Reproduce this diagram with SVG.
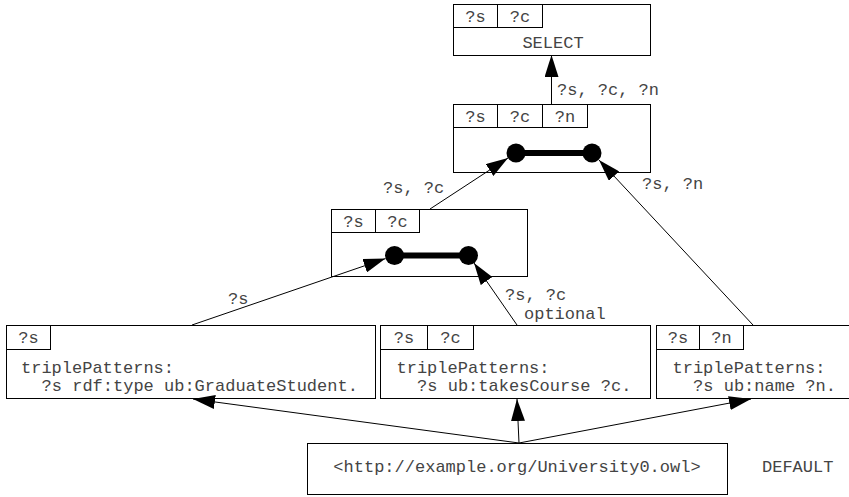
<svg xmlns="http://www.w3.org/2000/svg" width="849" height="497" viewBox="0 0 849 497">
<style>
  .box{fill:#fff;stroke:#000;stroke-width:1}
  .cell{fill:none;stroke:#000;stroke-width:1}
  text{font-family:"Liberation Mono","Courier New",monospace;font-size:17px;fill:#444}
  .c{text-anchor:middle}
  .edge{stroke:#000;stroke-width:1;fill:none;marker-end:url(#arr)}
  .bar{stroke:#000;stroke-width:6}
</style>
<defs>
  <marker id="arr" viewBox="0 0 22 14" refX="22" refY="7" markerWidth="22" markerHeight="14" orient="auto" markerUnits="userSpaceOnUse">
    <path d="M0,0 L22,7 L0,14 z" fill="#000"/>
  </marker>
</defs>
<rect width="849" height="497" fill="#fff"/>

<g id="select">
  <rect class="box" x="453.5" y="4.5" width="197" height="51"/>
  <rect class="cell" x="453.5" y="4.5" width="44" height="23"/>
  <rect class="cell" x="497.5" y="4.5" width="45" height="23"/>
  <text class="c" x="475.5" y="22">?s</text>
  <text class="c" x="520" y="22">?c</text>
  <text class="c" x="553" y="48">SELECT</text>
</g>

<g id="join1">
  <rect class="box" x="453.5" y="104.5" width="197" height="68"/>
  <rect class="cell" x="453.5" y="104.5" width="44" height="23"/>
  <rect class="cell" x="497.5" y="104.5" width="45" height="23"/>
  <rect class="cell" x="542.5" y="104.5" width="45" height="23"/>
  <text class="c" x="475.5" y="122">?s</text>
  <text class="c" x="520" y="122">?c</text>
  <text class="c" x="565" y="122">?n</text>
  <line class="bar" x1="516" y1="153" x2="592" y2="153"/>
  <circle cx="516" cy="153" r="9.5" fill="#000"/>
  <circle cx="592" cy="153" r="9.5" fill="#000"/>
</g>

<g id="join2">
  <rect class="box" x="331.5" y="209.5" width="196" height="67"/>
  <rect class="cell" x="331.5" y="209.5" width="44" height="23"/>
  <rect class="cell" x="375.5" y="209.5" width="44" height="23"/>
  <text class="c" x="353.5" y="227">?s</text>
  <text class="c" x="397.5" y="227">?c</text>
  <line class="bar" x1="394.5" y1="255.5" x2="468.5" y2="255.5"/>
  <circle cx="394.5" cy="255.5" r="9.5" fill="#000"/>
  <circle cx="468.5" cy="255.5" r="9.5" fill="#000"/>
</g>

<g id="tpA">
  <rect class="box" x="6.5" y="325.5" width="369" height="73"/>
  <rect class="cell" x="6.5" y="325.5" width="44" height="24"/>
  <text class="c" x="28.5" y="343">?s</text>
  <text x="21" y="373">triplePatterns:</text>
  <text x="41.6" y="391">?s rdf:type ub:GraduateStudent.</text>
</g>

<g id="tpB">
  <rect class="box" x="380.5" y="325.5" width="270" height="73"/>
  <rect class="cell" x="380.5" y="325.5" width="47" height="24"/>
  <rect class="cell" x="427.5" y="325.5" width="46" height="24"/>
  <text class="c" x="404" y="343">?s</text>
  <text class="c" x="450.5" y="343">?c</text>
  <text x="396.5" y="373">triplePatterns:</text>
  <text x="417.1" y="391">?s ub:takesCourse ?c.</text>
</g>

<g id="tpC">
  <rect class="box" x="656.5" y="325.5" width="200" height="73"/>
  <rect class="cell" x="656.5" y="325.5" width="43" height="24"/>
  <rect class="cell" x="699.5" y="325.5" width="44" height="24"/>
  <text class="c" x="678" y="343">?s</text>
  <text class="c" x="721.5" y="343">?n</text>
  <text x="672.5" y="373">triplePatterns:</text>
  <text x="693.1" y="391">?s ub:name ?n.</text>
</g>

<g id="source">
  <rect class="box" x="307.5" y="443.5" width="420" height="51"/>
  <text class="c" x="517" y="472">&lt;http://example.org/University0.owl&gt;</text>
  <text x="762" y="472">DEFAULT</text>
</g>

<g id="connectors">
  <line class="edge" x1="551.5" y1="104" x2="551.5" y2="55"/>
  <line class="edge" x1="430" y1="209" x2="508" y2="158"/>
  <line class="edge" x1="753" y1="325" x2="599" y2="160"/>
  <line class="edge" x1="192" y1="325" x2="385.5" y2="258.6"/>
  <line class="edge" x1="517" y1="325" x2="474" y2="263"/>
  <line class="edge" x1="519" y1="443" x2="193" y2="399"/>
  <line class="edge" x1="519" y1="443" x2="517" y2="399"/>
  <line class="edge" x1="519" y1="443" x2="751" y2="399"/>
  <text x="557" y="95">?s, ?c, ?n</text>
  <text x="383" y="193">?s, ?c</text>
  <text x="642" y="189">?s, ?n</text>
  <text x="228" y="304">?s</text>
  <text x="505" y="300">?s, ?c</text>
  <text x="524" y="319">optional</text>
</g>
</svg>
